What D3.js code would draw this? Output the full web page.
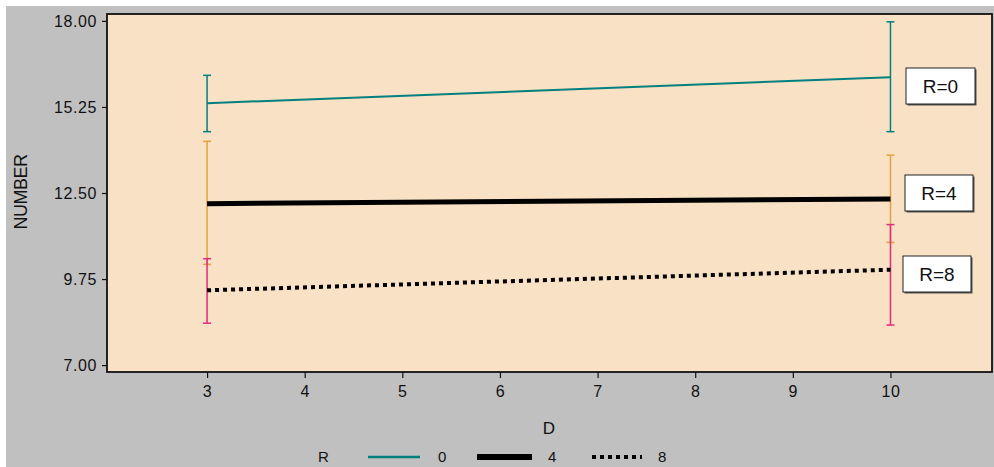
<!DOCTYPE html>
<html>
<head>
<meta charset="utf-8">
<script src="https://cdn.jsdelivr.net/npm/d3@7/dist/d3.min.js"></script>
<style>
  body { margin: 0; background: #ffffff; }
  svg text { font-family: "Liberation Sans", Arial, sans-serif; fill: #111; }
</style>
</head>
<body>
<svg id="chart" width="994" height="467"></svg>
<script>
// ---- data ----
const dValues = [3, 10];
const groups = ["0", "4", "8"];
const meanR0 = [15.37, 16.20];
const lowR0  = [14.46, 14.46];
const highR0 = [16.26, 17.97];
const meanR4 = [12.16, 12.31];
const lowR4  = [10.22, 10.92];
const highR4 = [14.15, 13.71];
const meanR8 = [9.39, 10.05];
const lowR8  = [8.34, 8.28];
const highR8 = [10.40, 11.49];
const xTicks = [3, 4, 5, 6, 7, 8, 9, 10];
const yTicks = [7.00, 9.75, 12.50, 15.25, 18.00];

// ---- layout ----
const svg = d3.select("#chart");
const L = 107, R = 992, T = 14, B = 372;
const x = d3.scaleLinear().domain([1.975, 11.04]).range([L, R]);
const y = d3.scaleLinear().domain([6.78, 18.22]).range([B, T]);

const series = [
  { key: groups[0], mean: meanR0, low: lowR0, high: highR0, line: "#00807f", bar: "#00807f", width: 2, dash: null, box: [906, 68, 69, 36] },
  { key: groups[1], mean: meanR4, low: lowR4, high: highR4, line: "#000000", bar: "#e3a23e", width: 5, dash: null, box: [905, 175, 68, 36] },
  { key: groups[2], mean: meanR8, low: lowR8, high: highR8, line: "#000000", bar: "#e02c7c", width: 4, dash: "4,4", box: [903, 256, 68, 36] }
];

// background
svg.append("rect").attr("x", 6).attr("y", 6).attr("width", 988).attr("height", 461).attr("fill", "#c0c0c0");
svg.append("rect").attr("x", L).attr("y", T).attr("width", R - L).attr("height", B - T)
  .attr("fill", "#f8e1c4");

// error bars
const cap = 4;
series.forEach(s => {
  const g = svg.append("g");
  dValues.forEach((d, i) => {
    const cx = x(d);
    g.append("line").attr("x1", cx).attr("x2", cx).attr("y1", y(s.low[i])).attr("y2", y(s.high[i]))
      .attr("stroke", s.bar).attr("stroke-width", 1.5);
    [s.low[i], s.high[i]].forEach(v => {
      g.append("line").attr("x1", cx - cap).attr("x2", cx + cap).attr("y1", y(v)).attr("y2", y(v))
        .attr("stroke", s.bar).attr("stroke-width", 1.5);
    });
  });
});

// mean lines
series.forEach(s => {
  const line = d3.line().x((d, i) => x(dValues[i])).y(d => y(d));
  const p = svg.append("path").datum(s.mean).attr("d", line)
    .attr("fill", "none").attr("stroke", s.line).attr("stroke-width", s.width);
  if (s.dash) p.attr("stroke-dasharray", s.dash);
});

// label boxes
series.forEach(s => {
  const [bx, by, bw, bh] = s.box;
  svg.append("rect").attr("x", bx + 1.5).attr("y", by + 1.5).attr("width", bw).attr("height", bh).attr("fill", "#555");
  svg.append("rect").attr("x", bx).attr("y", by).attr("width", bw).attr("height", bh)
    .attr("fill", "#ffffff").attr("stroke", "#222").attr("stroke-width", 1);
  svg.append("text").attr("x", bx + bw / 2).attr("y", by + bh / 2 + 7).attr("text-anchor", "middle")
    .style("font-size", "19px").text("R=" + s.key);
});

// frame
svg.append("rect").attr("x", L).attr("y", T).attr("width", R - L).attr("height", B - T)
  .attr("fill", "none").attr("stroke", "#111").attr("stroke-width", 1.8);

// axes
const yAxis = d3.axisLeft(y).tickValues(yTicks).tickFormat(d3.format(".2f")).tickSize(5).tickPadding(5);
const gy = svg.append("g").attr("transform", `translate(${L},0)`).call(yAxis);
const xAxis = d3.axisBottom(x).tickValues(xTicks).tickFormat(d3.format("d")).tickSize(6).tickPadding(8);
const gx = svg.append("g").attr("transform", `translate(0,${B})`).call(xAxis);
[gy, gx].forEach(g => {
  g.select(".domain").remove();
  g.selectAll(".tick line").attr("stroke", "#111").attr("stroke-width", 1.2);
  g.selectAll(".tick text").style("font-size", "16px").style("font-family", "'Liberation Sans', Arial, sans-serif")
    .style("letter-spacing", "0.6px").attr("fill", "#111");
});

// axis titles
svg.append("text").attr("transform", "translate(27,192) rotate(-90)").attr("text-anchor", "middle")
  .style("font-size", "18px").style("letter-spacing", "-0.5px").text("NUMBER");
svg.append("text").attr("x", 549).attr("y", 434).attr("text-anchor", "middle")
  .style("font-size", "17px").text("D");

// legend
const legY = 462;
svg.append("text").attr("x", 318).attr("y", legY).style("font-size", "15px").text("R");
const legItems = [
  { s: series[0], x1: 368, x2: 420, tx: 438, w: 2.5 },
  { s: series[1], x1: 477, x2: 532, tx: 548, w: 6 },
  { s: series[2], x1: 592, x2: 642, tx: 658, w: 4 }
];
legItems.forEach(it => {
  const l = svg.append("line").attr("x1", it.x1).attr("x2", it.x2).attr("y1", 457).attr("y2", 457)
    .attr("stroke", it.s.line).attr("stroke-width", it.w);
  if (it.s.dash) l.attr("stroke-dasharray", it.s.dash);
  svg.append("text").attr("x", it.tx).attr("y", legY).style("font-size", "15px").text(it.s.key);
});
</script>
</body>
</html>
